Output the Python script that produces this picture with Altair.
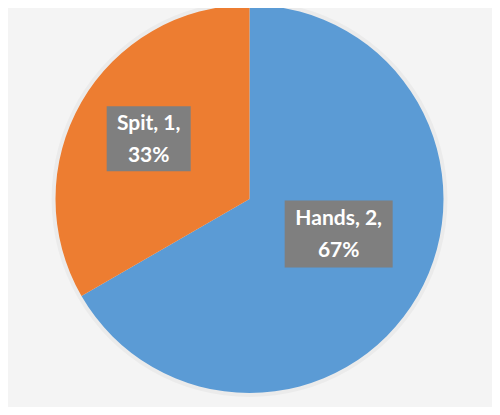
import altair as alt
import pandas as pd
import numpy as np

# ---- data ----
categories = ["Hands", "Spit"]
counts = [2, 1]
colors = ["#5B9BD5", "#ED7D31"]

# ---- layout / style (not data) ----
W, H = 484, 399
CX, CY, R = 241.5, 191.0, 194.0
LABEL_R = 0.6
LABEL_NUDGE = {"Hands": (-0.06, 0.12), "Spit": (0.0, 0.01)}
BOX_PX = {"Hands": (108, 67), "Spit": (84, 65)}
LINE_H = 32

df = pd.DataFrame({"category": categories, "count": counts})
total = df["count"].sum()
df["pct"] = df["count"] / total
df["end"] = df["count"].cumsum() / total
df["start"] = df["end"] - df["pct"]
df["mid"] = (df["start"] + df["end"]) / 2 * 2 * np.pi
df["label"] = (df["category"] + ", " + df["count"].astype(str) + ",\n"
               + (df["pct"] * 100).round().astype(int).astype(str) + "%")
df["ux"] = LABEL_R * np.sin(df["mid"]) + df["category"].map(lambda c: LABEL_NUDGE[c][0])
df["uy"] = LABEL_R * np.cos(df["mid"]) + df["category"].map(lambda c: LABEL_NUDGE[c][1])
df["bx1"] = df["ux"] - df["category"].map(lambda c: BOX_PX[c][0] / 2 / R)
df["bx2"] = df["ux"] + df["category"].map(lambda c: BOX_PX[c][0] / 2 / R)
df["by1"] = df["uy"] - df["category"].map(lambda c: BOX_PX[c][1] / 2 / R)
df["by2"] = df["uy"] + df["category"].map(lambda c: BOX_PX[c][1] / 2 / R)
df["order"] = range(len(df))

xs = alt.Scale(domain=[-1, 1], range=[CX - R, CX + R])
ys = alt.Scale(domain=[-1, 1], range=[CY + R, CY - R])

base = alt.Chart(df)

shadow = base.mark_arc(outerRadius=R + 4, color="#000000", opacity=0.035).encode(
    theta=alt.Theta("count:Q", stack=True),
    x=alt.value(CX), y=alt.value(CY),
)

pie = base.mark_arc(outerRadius=R).encode(
    theta=alt.Theta("count:Q", stack=True),
    color=alt.Color("category:N", scale=alt.Scale(domain=categories, range=colors), legend=None),
    order=alt.Order("order:Q"),
    x=alt.value(CX), y=alt.value(CY),
)

boxes = base.mark_rect(color="#7F7F7F").encode(
    x=alt.X("bx1:Q", scale=xs, axis=None),
    x2="bx2:Q",
    y=alt.Y("by1:Q", scale=ys, axis=None),
    y2="by2:Q",
)

labels = base.mark_text(
    color="white", font="Lato", fontWeight="bold", fontSize=21,
    lineBreak="\n", lineHeight=LINE_H, align="center", baseline="middle",
    dy=-LINE_H / 2 + 1,
).encode(
    x=alt.X("ux:Q", scale=xs, axis=None),
    y=alt.Y("uy:Q", scale=ys, axis=None),
    text="label:N",
)

chart = alt.layer(shadow, pie, boxes, labels).properties(
    width=W, height=H, background="#f4f4f4", padding=0,
    autosize=alt.AutoSizeParams(type="none"),
).configure_view(stroke=None)

chart.save("out.html", embed_options={"renderer": "svg", "actions": False})
